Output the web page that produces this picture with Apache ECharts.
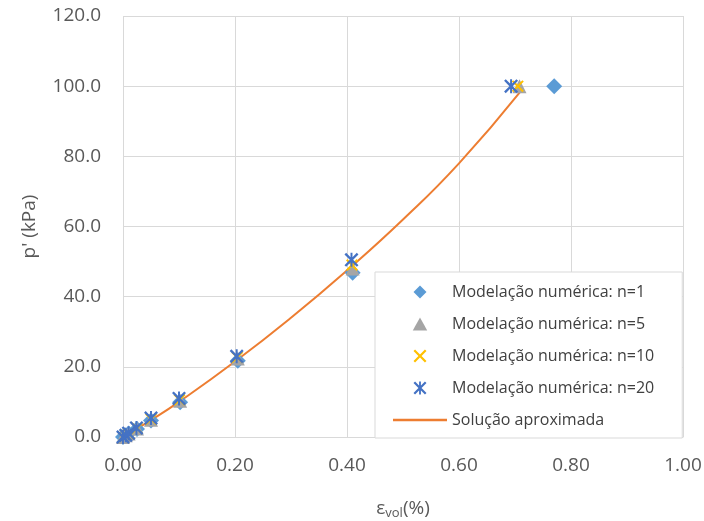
<!DOCTYPE html>
<html>
<head>
    <meta http-equiv=Content-Type content="text/html; charset=utf-8">
    <title>p' x εvol</title>
    <script type="text/javascript" src="https://cdn.jsdelivr.net/npm/echarts@6/dist/echarts.min.js"></script>
    <style>
        html, body { margin: 0; padding: 0; background: #fff; }
        #chartmain { width: 704px; height: 521px; }
    </style>
</head>
<body>
<div id="chartmain"></div>

<script type="text/javascript">
    // dados: deformação volumétrica (%) e p' (kPa)
    var e_n1 = [0, 0.005, 0.01, 0.025, 0.05, 0.102, 0.205, 0.41, 0.77];
    var p_n1 = [0, 0.5, 1.0, 2.3, 4.7, 9.9, 21.7, 46.8, 100];
    var e_n5 = [0, 0.005, 0.01, 0.025, 0.05, 0.102, 0.205, 0.41, 0.708];
    var p_n5 = [0, 0.5, 1.0, 2.4, 4.9, 10.3, 22.4, 48.0, 100];
    var e_n10 = [0, 0.005, 0.01, 0.025, 0.05, 0.101, 0.204, 0.409, 0.705];
    var p_n10 = [0, 0.5, 1.0, 2.5, 5.1, 10.6, 22.7, 49.0, 100];
    var e_n20 = [0, 0.005, 0.01, 0.024, 0.05, 0.1, 0.203, 0.408, 0.693];
    var p_n20 = [0, 0.5, 1.1, 2.6, 5.4, 11.0, 23.0, 50.5, 100];
    var e_sol = [0, 0.05, 0.1, 0.2, 0.3, 0.4, 0.5, 0.6, 0.71];
    var p_sol = [0, 4.8, 10.0, 21.5, 34.0, 47.5, 62.0, 78.0, 98.5];

    var nomes = ['Modelação numérica: n=1', 'Modelação numérica: n=5',
        'Modelação numérica: n=10', 'Modelação numérica: n=20', 'Solução aproximada'];

    function pares(xs, ys) {
        var arr = [];
        for (var i = 0; i < xs.length; i++) {
            arr.push([xs[i], ys[i]]);
        }
        return arr;
    }

    // símbolos tipo Excel (losango, triângulo, x e asterisco)
    var simboloLos = 'path://M5,0L10,5L5,10L0,5Z';
    var simboloTri = 'path://M5,0L10,9L0,9Z';
    var simboloX = 'path://M0,1.2L1.2,0L5,3.8L8.8,0L10,1.2L6.2,5L10,8.8L8.8,10L5,6.2L1.2,10L0,8.8L3.8,5Z';
    var simboloAst = simboloX + 'M4.3,0L5.7,0L5.7,10L4.3,10Z';
    var iconeLinha = 'path://M0,0L54,0L54,2.5L0,2.5Z';

    var fonte = '"Open Sans", "Liberation Sans", sans-serif';

    var myChart = echarts.init(document.getElementById('chartmain'));
    var option = {
        animation: false,
        backgroundColor: '#fff',
        grid: {
            left: 123,
            right: 21,
            top: 16,
            bottom: 84,
            containLabel: false,
            outerBoundsMode: 'none'
        },
        legend: {
            data: [
                {name: nomes[0], icon: simboloLos},
                {name: nomes[1], icon: simboloTri},
                {name: nomes[2], icon: simboloX},
                {name: nomes[3], icon: simboloAst},
                {name: nomes[4], icon: iconeLinha}
            ],
            orient: 'vertical',
            left: 375,
            top: 272,
            padding: [12, 28, 10, 18],
            itemWidth: 54,
            itemHeight: 13,
            itemGap: 16,
            symbolKeepAspect: true,
            backgroundColor: '#fff',
            borderColor: '#d9d9d9',
            borderWidth: 1,
            borderRadius: 0,
            textStyle: {
                fontFamily: fonte,
                fontSize: 16,
                color: '#404040',
                lineHeight: 15
            }
        },
        xAxis: {
            type: 'value',
            min: 0,
            max: 1,
            interval: 0.2,
            name: '{e|ε}{s|vol}{e|(%)}',
            nameLocation: 'middle',
            nameGap: 60,
            nameTextStyle: {
                rich: {
                    e: { fontFamily: fonte, fontSize: 19, color: '#595959' },
                    s: { fontFamily: fonte, fontSize: 13, color: '#595959', verticalAlign: 'bottom', padding: [10, 0, 0, 0] }
                }
            },
            axisLine: { show: true, lineStyle: { color: '#d9d9d9', width: 1 } },
            axisTick: { show: false },
            axisLabel: {
                fontFamily: fonte,
                fontSize: 19,
                color: '#595959',
                margin: 19,
                formatter: function (v) { return v.toFixed(2); }
            },
            splitLine: { show: true, lineStyle: { color: '#d9d9d9', width: 1 } }
        },
        yAxis: {
            type: 'value',
            min: 0,
            max: 120,
            interval: 20,
            name: "p' (kPa)",
            nameLocation: 'middle',
            nameGap: 84,
            nameTextStyle: { fontFamily: fonte, fontSize: 19, color: '#595959' },
            axisLine: { show: false },
            axisTick: { show: false },
            axisLabel: {
                fontFamily: fonte,
                fontSize: 19,
                color: '#595959',
                margin: 22,
                formatter: function (v) { return v.toFixed(1); }
            },
            splitLine: { show: true, lineStyle: { color: '#d9d9d9', width: 1 } }
        },
        series: [
            {
                name: nomes[0],
                type: 'scatter',
                data: pares(e_n1, p_n1),
                symbol: simboloLos,
                symbolSize: 16,
                itemStyle: { color: '#5b9bd5', opacity: 1 },
                z: 2
            },
            {
                name: nomes[1],
                type: 'scatter',
                data: pares(e_n5, p_n5),
                symbol: simboloTri,
                symbolSize: 14,
                itemStyle: { color: '#a5a5a5', opacity: 1 },
                z: 3
            },
            {
                name: nomes[2],
                type: 'scatter',
                data: pares(e_n10, p_n10),
                symbol: simboloX,
                symbolSize: 12,
                itemStyle: { color: '#ffc000', opacity: 1 },
                z: 4
            },
            {
                name: nomes[3],
                type: 'scatter',
                data: pares(e_n20, p_n20),
                symbol: simboloAst,
                symbolSize: 14,
                itemStyle: { color: '#4472c4', opacity: 1 },
                z: 5
            },
            {
                name: nomes[4],
                type: 'line',
                data: pares(e_sol, p_sol),
                smooth: true,
                symbol: 'none',
                lineStyle: { color: '#ed7d31', width: 2 },
                itemStyle: { color: '#ed7d31' },
                z: 1
            }
        ]
    };
    myChart.setOption(option);
</script>
</body>
</html>
